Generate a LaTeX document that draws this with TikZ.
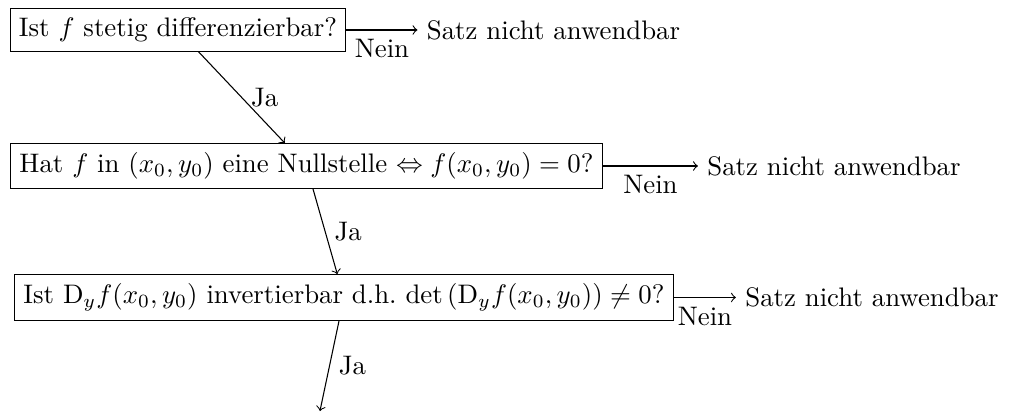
\documentclass[tikz,border=0pt]{standalone}
\usepackage{amsmath}
\tikzset{
  frage/.style={draw, rectangle, inner sep=0.333em},
  ausgang/.style={inner sep=0.333em},
  pfeil/.style={->},
}
\begin{document}
\begin{tikzpicture}
  \useasboundingbox (0,0) rectangle (13.285,-5.403);
  % Fragen
  \node[frage] (stetig) at (2.334,-0.393) {Ist $f$ stetig differenzierbar?};
  \node[frage] (null) at (4.019,-2.177)
     {Hat $f$ in $(x_0,y_0)$ eine Nullstelle $\Leftrightarrow f(x_0,y_0)=0$?};
  \node[frage] (inv) at (4.511,-3.901)
     {Ist $\mathrm{D}_y f(x_0,y_0)$ invertierbar d.h.\ $\det\left(\mathrm{D}_y f(x_0,y_0)\right)\neq 0$?};
  \coordinate (weiter) at (4.196,-5.390);
  % Ausgaenge
  \node[ausgang] (nein1) at (7.259,-0.393) {Satz nicht anwendbar};
  \node[ausgang] (nein2) at (10.937,-2.177) {Satz nicht anwendbar};
  \node[ausgang] (nein3) at (11.435,-3.901) {Satz nicht anwendbar};
  % Pfeile
  \draw[pfeil] (stetig) -- node[right] {Ja} (null);
  \draw[pfeil] (null) -- node[right] {Ja} (inv);
  \draw[pfeil] (inv) -- node[right] {Ja} (weiter);
  \draw[pfeil] (stetig) -- node[below] {Nein} (nein1);
  \draw[pfeil] (null) -- node[below] {Nein} (nein2);
  \draw[pfeil] (inv) -- node[below] {Nein} (nein3);
\end{tikzpicture}
\end{document}
